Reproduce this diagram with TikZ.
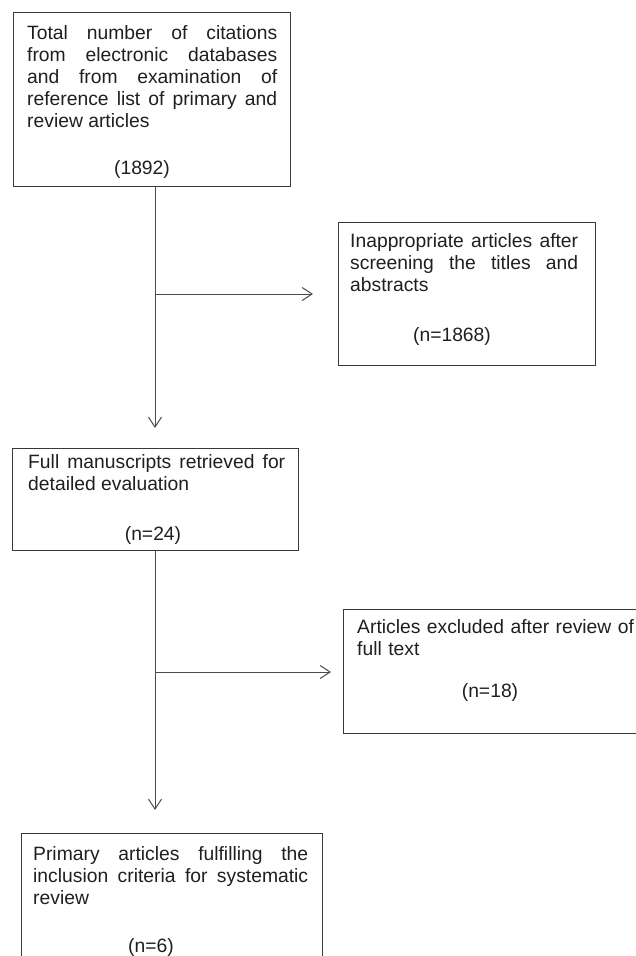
\documentclass[tikz,border=0pt]{standalone}
\usepackage{fontspec}
\setmainfont{Liberation Sans}
\usetikzlibrary{arrows.meta}
\hyphenpenalty=10000
\exhyphenpenalty=10000
\begin{document}
\begin{tikzpicture}[x=1pt,y=-1pt,
  box/.style={draw=black!78,line width=1.2pt,inner sep=0pt,anchor=north west},
  txt/.style={inner sep=0pt,anchor=base west,align=justify,text=black!88,
    font=\fontsize{19.3pt}{22pt}\selectfont},
  num/.style={inner sep=0pt,anchor=base,text=black!88,font=\fontsize{19.3pt}{22pt}\selectfont},
  link/.style={draw=black!70,line width=1pt,-{Straight Barb[length=10pt,width=13pt,line width=1pt]}}]
\useasboundingbox (0,0) rectangle (635,956);
% boxes
\node[box,minimum width=277pt,minimum height=174pt] (b1) at (13,12) {};
\node[box,minimum width=257pt,minimum height=143pt] (b2) at (338,222) {};
\node[box,minimum width=286pt,minimum height=102pt] (b3) at (12,448) {};
\node[box,minimum width=310pt,minimum height=124pt] (b4) at (343,609) {};
\node[box,minimum width=301pt,minimum height=140pt] (b5) at (21,833) {};
% texts
\node[txt,text width=250pt] (t1) at (27,39) {Total number of citations\linebreak from electronic databases\linebreak and from examination of\linebreak reference list of primary and\linebreak review articles};
\node[num] (n1) at (142,174) {(1892)};
\node[txt,text width=228pt] (t2) at (350,247) {Inappropriate articles after\linebreak screening the titles and\linebreak abstracts};
\node[num] (n2) at (452,341) {(n=1868)};
\node[txt,text width=257pt] (t3) at (28,468) {Full manuscripts retrieved for\linebreak detailed evaluation};
\node[num] (n3) at (153,540) {(n=24)};
\node[txt,text width=290pt,align=left] (t4) at (357,633) {Articles excluded after review of\\full text};
\node[num] (n4) at (490,697) {(n=18)};
\node[txt,text width=275pt] (t5) at (33,860) {Primary articles fulfilling the\linebreak inclusion criteria for systematic\linebreak review};
\node[num] (n5) at (151,952) {(n=6)};
% connectors
\coordinate (a1) at (155,428);
\coordinate (j1) at (155,294);
\coordinate (e1) at (313,294);
\coordinate (a2) at (155,810);
\coordinate (j2) at (155,672);
\coordinate (e2) at (331,672);
\draw[link] (b1.south -| a1) -- (a1);
\draw[link] (j1) -- (e1);
\draw[link] (b3.south -| a2) -- (a2);
\draw[link] (j2) -- (e2);
\end{tikzpicture}
\end{document}
